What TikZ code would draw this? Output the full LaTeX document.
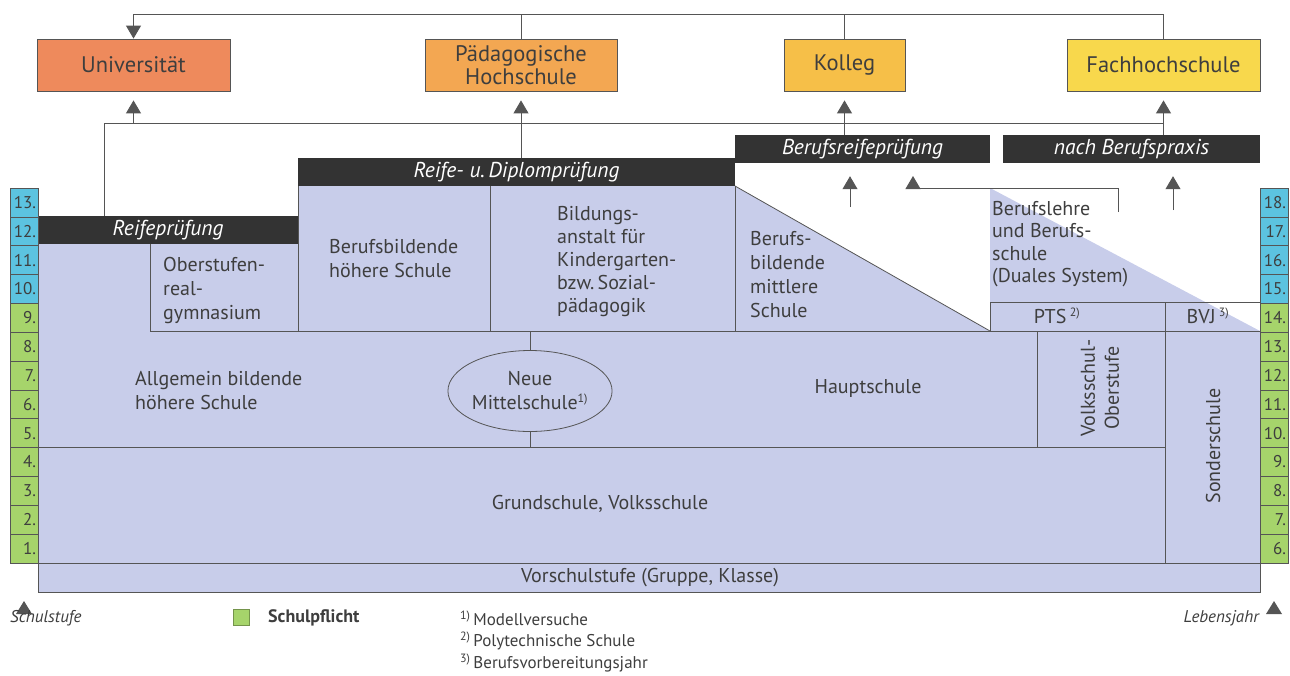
\documentclass[tikz,border=0pt]{standalone}
\usepackage{fontspec}
\setmainfont{PT Sans}
\usetikzlibrary{arrows.meta,shapes.geometric}
\definecolor{area}{HTML}{C8CDEA}
\definecolor{bar}{HTML}{333333}
\definecolor{edge}{HTML}{555555}
\definecolor{ink}{HTML}{3E3E3E}
\definecolor{stblue}{HTML}{5CC3E0}
\definecolor{stgreen}{HTML}{A6D46B}
\definecolor{unic}{HTML}{EE8A5C}
\definecolor{padc}{HTML}{F3A752}
\definecolor{kolc}{HTML}{F6BF48}
\definecolor{fhc}{HTML}{F8D84C}
\newcommand{\fn}[1]{\textsuperscript{\fontsize{12}{12}\selectfont #1}}
\begin{document}
\begin{tikzpicture}[x=1pt,y=-1pt,
  goal/.style={draw=edge,line width=0.8pt,minimum height=52pt,text=ink,
    font=\fontsize{22.5}{23}\selectfont,align=center,inner sep=0pt},
  exam/.style={fill=bar,text=white,minimum height=28pt,inner sep=0pt,
    font=\fontsize{21.5}{22}\selectfont\itshape},
  lbl/.style={text=ink,inner sep=0pt,font=\fontsize{20}{24}\selectfont},
  rule/.style={draw=edge,line width=0.8pt},
  flow/.style={draw=edge,line width=0.9pt},
  tip/.style={-{Triangle[width=15pt,length=13pt]}},
  stage/.style={draw=edge,line width=0.7pt,minimum width=28pt,minimum height=28.85pt,
    inner sep=0pt,text width=24pt,align=right,text=ink,font=\fontsize{17}{17}\selectfont},
  note/.style={text=ink,inner sep=0pt,anchor=west,font=\fontsize{17}{18}\selectfont},
]
\useasboundingbox (0,0) rectangle (1290,675);

% school area
\fill[area] (38,592) -- (38,244) -- (298,244) -- (298,186) -- (735,186) -- (990,331)
  -- (990,188) -- (1260,331) -- (1260,592) -- cycle;

% internal borders
\draw[rule] (150,244) -- (150,331) -- (1260,331);
\draw[rule] (298,186) -- (298,331);
\draw[rule] (490,186) -- (490,331);
\draw[rule] (735,186) -- (735,331);
\draw[rule] (735,186) -- (990,331);
\draw[rule] (990,331) -- (990,302) -- (1260,302);
\draw[rule] (1165,302) -- (1165,563);
\draw[rule] (1037,331) -- (1037,447);
\draw[rule] (38,447) -- (1165,447);
\draw[rule] (38,563) -- (1260,563);
\draw[rule] (38,244) -- (38,592) -- (1260,592) -- (1260,331);

% goals
\node[goal,fill=unic,minimum width=193pt] (univ) at (133.5,65) {Universität};
\node[goal,fill=padc,minimum width=192pt] (phs) at (521,65) {Pädagogische\\Hochschule};
\node[goal,fill=kolc,minimum width=121pt] (kolleg) at (844.5,65) {Kolleg};
\node[goal,fill=fhc,minimum width=193pt] (fh) at (1163.5,65) {Fachhochschule};

% exams
\node[exam,minimum width=260pt] (reife) at (168,230) {Reifeprüfung};
\node[exam,minimum width=437pt] (diplom) at (516.5,172) {Reife- u.\,Diplomprüfung};
\node[exam,minimum width=255pt] (brp) at (862.5,149) {Berufsreifeprüfung};
\node[exam,minimum width=257pt] (praxis) at (1131.5,149) {nach Berufspraxis};

% school types
\node[lbl,align=left,anchor=west] (org) at (163,290) {Oberstufen-\\real-\\gymnasium};
\node[lbl,align=left,anchor=west] (bhs) at (329,259) {Berufsbildende\\höhere Schule};
\node[lbl,align=left,anchor=west,font=\fontsize{20}{23}\selectfont] (bakip) at (557,262) {Bildungs-\\anstalt für\\Kindergarten-\\bzw.\,Sozial-\\pädagogik};
\node[lbl,align=left,anchor=west] (bms) at (750,275) {Berufs-\\bildende\\mittlere\\Schule};
\node[lbl,align=left,anchor=west,font=\fontsize{20}{22.5}\selectfont] (dual) at (992,244) {Berufslehre\\und Berufs-\\schule\\(Duales System)};
\node[lbl] (pts) at (1057,316) {PTS\,\fn{2)}};
\node[lbl] (bvj) at (1208,316) {BVJ\,\fn{3)}};
\node[lbl,align=left,anchor=west] (ahs) at (135,391) {Allgemein bildende\\höhere Schule};
\node[lbl,draw=edge,line width=0.8pt,ellipse,minimum width=154pt,minimum height=81pt,align=center]
  (nms) at (530,391) {Neue\\Mittelschule\fn{1)}};
\node[lbl] (hs) at (868,388) {Hauptschule};
\node[lbl,rotate=90,align=center] (vso) at (1100,388) {Volksschul-\\Oberstufe};
\node[lbl,rotate=90] (sos) at (1213,446) {Sonderschule};
\node[lbl] (vs) at (600,504) {Grundschule, Volksschule};
\node[lbl] (vor) at (650,578) {Vorschulstufe (Gruppe, Klasse)};

\draw[rule] (nms.north) -- (530,331);
\draw[rule] (nms.south) -- (530,447);

% school grades and ages
\foreach \n in {1,...,9}
  \node[stage,fill=stgreen] (s\n) at (24,{563-28.846*(\n-0.5)}) {\n.};
\foreach \n in {10,...,13}
  \node[stage,fill=stblue] (s\n) at (24,{563-28.846*(\n-0.5)}) {\n.};
\foreach \n [evaluate=\n as \a using int(\n+5)] in {1,...,9}
  \node[stage,fill=stgreen] (a\n) at (1274,{563-28.846*(\n-0.5)}) {\a.};
\foreach \n [evaluate=\n as \a using int(\n+5)] in {10,...,13}
  \node[stage,fill=stblue] (a\n) at (1274,{563-28.846*(\n-0.5)}) {\a.};

% connectors to the top
\coordinate (top) at (0,14);
\coordinate (bus) at (104,123);
\draw[flow,tip] (fh.north) -- (fh.north |- top) -- (univ.north |- top) -- (univ.north);
\draw[flow] (phs.north) -- (phs.north |- top);
\draw[flow] (kolleg.north) -- (kolleg.north |- top);
\draw[flow] (bus |- reife.north) -- (bus) -- (bus -| fh.south);
\draw[flow,tip,shorten >=9pt] (univ.south |- bus) -- (univ.south);
\draw[flow,tip,shorten >=9pt] (phs.south |- diplom.north) -- (phs.south);
\draw[flow,tip,shorten >=9pt] (kolleg.south |- brp.north) -- (kolleg.south);
\draw[flow,tip,shorten >=9pt] (fh.south |- praxis.north) -- (fh.south);

% connectors from vocational training
\coordinate (up1) at (850,207);
\coordinate (up2) at (1118,212);
\coordinate (up3) at (1173,210);
\coordinate (up2t) at (913,176);
\draw[flow,tip,shorten >=13pt] (up1) -- (up1 |- brp.south);
\draw[flow,tip] (up2) |- (up2t |- 0,188) -- (up2t);
\draw[flow,tip,shorten >=13pt] (up3) -- (up3 |- praxis.south);

% axis marks
\fill[edge] (16,614) -- (32,614) -- (24,601) -- cycle;
\fill[edge] (1266,614) -- (1282,614) -- (1274,601) -- cycle;

% legend
\node[note,font=\fontsize{17}{18}\selectfont\itshape] (lstufe) at (10,618) {Schulstufe};
\node[draw=stgreen!70!black,line width=0.5pt,fill=stgreen,minimum size=16pt,inner sep=0pt] (lbox) at (241,617) {};
\node[note,font=\fontsize{18}{19}\selectfont\bfseries] (lpfl) at (268,618) {Schulpflicht};
\node[note] (f1) at (460,618) {\fn{1)}\,Modellversuche};
\node[note] (f2) at (460,641) {\fn{2)}\,Polytechnische Schule};
\node[note] (f3) at (460,663) {\fn{3)}\,Berufsvorbereitungsjahr};
\node[note,anchor=east,font=\fontsize{17}{18}\selectfont\itshape] (lalter) at (1259,618) {Lebensjahr};
\end{tikzpicture}
\end{document}
